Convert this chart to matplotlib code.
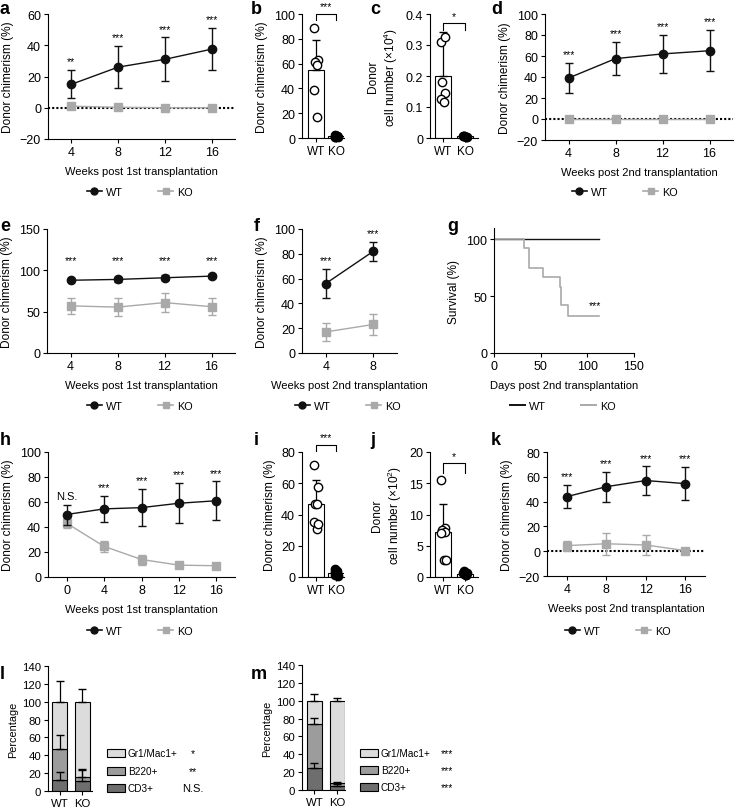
import numpy as np
import matplotlib
matplotlib.use("Agg")
import matplotlib.pyplot as plt
from matplotlib.lines import Line2D

plt.rcParams['font.family'] = ['Liberation Sans', 'DejaVu Sans']
plt.rcParams['font.size'] = 8
plt.rcParams['axes.labelsize'] = 8.6
plt.rcParams['xtick.labelsize'] = 9
plt.rcParams['ytick.labelsize'] = 9
plt.rcParams['axes.linewidth'] = 0.8
plt.rcParams['xtick.major.width'] = 0.8
plt.rcParams['ytick.major.width'] = 0.8
plt.rcParams['xtick.major.size'] = 3
plt.rcParams['ytick.major.size'] = 3
plt.rcParams['mathtext.fontset'] = 'custom'
plt.rcParams['mathtext.rm'] = 'Liberation Sans'

WT_C = '#111111'
KO_C = '#a9a9a9'
STAR_FS = 7.5

# ---- data ----
weeks = [4, 8, 12, 16]
weeks_h = [0, 4, 8, 12, 16]
weeks_f = [4, 8]

a_wt = [15, 26, 31, 37.5]
a_wt_err = [9, 13.5, 14, 13.5]
a_ko = [1, 0.3, 0, 0]
a_ko_err = [0.5, 0.3, 0.2, 0.2]
a_stars = ['**', '***', '***', '***']

b_wt_pts = [89, 63, 61, 59, 39, 17]
b_ko_pts = [2.5, 1.5, 1.0, 2.0, 0.5, 1.8, 1.2]
b_wt_mean, b_wt_err = 55, 24
b_ko_mean = 1.5

c_wt_pts = [0.31, 0.325, 0.18, 0.145, 0.125, 0.115]
c_ko_pts = [0.006, 0.004, 0.005, 0.003, 0.006]
c_wt_mean, c_wt_err = 0.2, 0.142
c_ko_mean = 0.005

d_wt = [39, 57.5, 62, 65]
d_wt_err = [14.5, 15.5, 18, 19.5]
d_ko = [0, 0, 0, 0]
d_ko_err = [0.3, 0.3, 0.3, 0.3]

e_wt = [88, 89, 91, 93]
e_wt_err = [1.5, 3, 3, 2.5]
e_ko = [57, 55.5, 61, 56]
e_ko_err = [10, 11, 12, 10]

f_wt = [56, 82]
f_wt_err = [12, 7.5]
f_ko = [17, 23]
f_ko_err = [7, 8.5]

g_wt_days = [0, 112]
g_wt_surv = [100, 100]
g_ko_days = [0, 32, 38, 52, 71, 72, 79, 112]
g_ko_surv = [100, 92, 75, 67, 58, 42, 33, 33]

h_wt = [50, 54.5, 55.5, 59, 61]
h_wt_err = [8, 10.5, 15, 16, 15.5]
h_ko = [43, 24.5, 14, 9.5, 9]
h_ko_err = [4, 4.5, 4, 1.5, 1.5]
h_stars = ['N.S.', '***', '***', '***', '***']

i_wt_pts = [71.5, 57.5, 47, 46.5, 35, 31, 34]
i_ko_pts = [5, 4, 3, 2.5, 1.5, 1, 0.5, 3.5]
i_wt_mean, i_wt_err = 47, 15
i_ko_mean = 2.5

j_wt_pts = [15.5, 7.9, 7.5, 7.2, 7.0, 2.8, 2.8]
j_ko_pts = [0.9, 0.7, 0.5, 0.3, 0.6, 0.4]
j_wt_mean, j_wt_err = 7.2, 4.5
j_ko_mean = 0.5

k_wt = [44, 52, 57, 54.5]
k_wt_err = [9.5, 12, 11.5, 13.5]
k_ko = [4.5, 6, 5, 0.5]
k_ko_err = [4, 9, 8, 1]

groups = ['WT', 'KO']
subsets = ['CD3+', 'B220+', 'Gr1/Mac1+']
subset_colors = ['#6e6e6e', '#9c9c9c', '#dcdcdc']
l_vals = {'WT': [12, 34.5, 53.5], 'KO': [11, 5, 84]}
l_errs = {'WT': [9, 16.5, 23.5], 'KO': [13, 9, 14]}
l_sig = ['N.S.', '**', '*']
m_vals = {'WT': [24.5, 49.5, 26], 'KO': [5, 3, 92]}
m_errs = {'WT': [5.5, 6.5, 7], 'KO': [2, 1, 3]}
m_sig = ['***', '***', '***']

W, H = 734, 812
fig = plt.figure(figsize=(W / 100, H / 100), dpi=100)


def add_ax(l, t, r, b):
    ax = fig.add_axes([l / W, 1 - b / H, (r - l) / W, (b - t) / H])
    ax.spines['top'].set_visible(False)
    ax.spines['right'].set_visible(False)
    ax.tick_params(direction='out', pad=2)
    return ax


def letter(x, y, s):
    fig.text(x / W, 1 - y / H, s, fontsize=13, fontweight='bold', va='top', ha='left')


def line_legend(cx, cy, markers=True):
    if markers:
        h = [Line2D([], [], color=WT_C, marker='o', ms=5, lw=1.2),
             Line2D([], [], color=KO_C, marker='s', ms=5, lw=1.2)]
    else:
        h = [Line2D([], [], color=WT_C, lw=1.4), Line2D([], [], color=KO_C, lw=1.4)]
    fig.legend(h, ['WT', 'KO'], loc='center', bbox_to_anchor=(cx / W, 1 - cy / H),
               ncol=2, frameon=False, handlelength=1.4, handletextpad=0.4,
               columnspacing=3.2, fontsize=7.8)


def line_panel(ax, x, wt, wt_err, ko, ko_err, stars, ylim, yticks, xlim,
               zero_line=False, star_y=None):
    if zero_line:
        ax.axhline(0, color='black', ls=(0, (1, 1)), lw=1.5, zorder=1)
    ax.errorbar(x, ko, yerr=ko_err, color=KO_C, marker='s', ms=5.5, lw=1,
                capsize=3, elinewidth=1, zorder=2)
    ax.errorbar(x, wt, yerr=wt_err, color=WT_C, marker='o', ms=6, lw=1,
                capsize=3, elinewidth=1, zorder=3)
    rng = ylim[1] - ylim[0]
    for xi, m, e, s in zip(x, wt, wt_err, stars):
        yy = star_y if star_y is not None else m + e + 0.07 * rng
        fs = 8 if s == 'N.S.' else STAR_FS
        ax.text(xi, yy, s, ha='center', va='center', fontsize=fs, clip_on=False)
    ax.set_ylim(*ylim)
    ax.set_yticks(yticks)
    ax.set_xlim(*xlim)
    ax.set_xticks(x)


def dot_bar_panel(ax, wt_mean, wt_err, ko_mean, wt_pts, ko_pts, ylim, yticks,
                  xlim, bw, bracket_y, drop, star):
    ax.bar([0, 1], [wt_mean, ko_mean], width=bw, color='white', edgecolor='black',
           lw=0.8, zorder=1)
    ax.errorbar(0, wt_mean, yerr=[[0], [wt_err]], color='black', capsize=3,
                elinewidth=0.9, zorder=2)
    off = np.array([-0.08, 0.1, -0.05, 0.07, -0.1, 0.04, 0.12, -0.02])
    ax.plot(0 + off[:len(wt_pts)], wt_pts, 'o', mfc='white', mec='black', ms=6,
            mew=1, zorder=3, clip_on=False)
    ax.plot(1 + off[:len(ko_pts)] * 0.7, ko_pts, 'o', color='black', ms=6,
            zorder=3, clip_on=False)
    ax.plot([0, 0, 1, 1], [bracket_y - drop, bracket_y, bracket_y, bracket_y - drop],
            color='black', lw=0.8, clip_on=False)
    rng = ylim[1] - ylim[0]
    ax.text(0.5, bracket_y + 0.06 * rng, star, ha='center', va='center',
            fontsize=STAR_FS, clip_on=False)
    ax.set_ylim(*ylim)
    ax.set_yticks(yticks)
    ax.set_xlim(*xlim)
    ax.set_xticks([0, 1])
    ax.set_xticklabels(groups, fontsize=8.5)


def stacked_panel(ax, vals, errs, xlim):
    for gi, g in enumerate(groups):
        bottom = 0
        for si in range(3):
            v = vals[g][si]
            ax.bar(gi, v, bottom=bottom, width=0.67, color=subset_colors[si],
                   edgecolor='black', lw=0.8, zorder=1)
            bottom += v
            ax.errorbar(gi, bottom, yerr=[[0], [errs[g][si]]], color='black',
                        capsize=3, elinewidth=0.9, zorder=2)
    ax.set_ylim(0, 140)
    ax.set_yticks(range(0, 141, 20))
    ax.tick_params(labelsize=8.2)
    ax.set_xlim(*xlim)
    ax.set_xticks([0, 1])
    ax.set_xticklabels(groups)
    ax.set_ylabel('Percentage', labelpad=3, fontsize=7.8)


def stacked_legend(x0, ys, star_x, sig):
    for si in [2, 1, 0]:
        y = ys[2 - si]
        fig.patches.append(plt.Rectangle((x0 / W, 1 - (y + 4) / H), 18 / W, 8 / H,
                                         transform=fig.transFigure, facecolor=subset_colors[si],
                                         edgecolor='black', lw=0.8))
        fig.text((x0 + 21) / W, 1 - y / H, subsets[si], va='center', ha='left', fontsize=7.2)
        fs = 8 if sig[si] == 'N.S.' else STAR_FS
        fig.text(star_x / W, 1 - y / H, sig[si], va='center', ha='center', fontsize=fs)


ylab = 'Donor chimerism (%)'

# a
ax = add_ax(48, 15, 235, 140)
line_panel(ax, weeks, a_wt, a_wt_err, a_ko, a_ko_err, a_stars, (-20, 60),
           range(-20, 61, 20), (2, 18), zero_line=True)
ax.set_ylabel(ylab)
ax.set_xlabel('Weeks post 1st transplantation', labelpad=6, fontsize=8)
line_legend(140, 193)
letter(0, 1, 'a')

# b
ax = add_ax(302, 15, 344, 139)
dot_bar_panel(ax, b_wt_mean, b_wt_err, b_ko_mean, b_wt_pts, b_ko_pts, (0, 100),
              range(0, 101, 20), (-0.7, 1.4), 0.8, 100, 5, '***')
ax.set_ylabel(ylab)
letter(251, 1, 'b')

# c
ax = add_ax(430, 15, 478, 139)
dot_bar_panel(ax, c_wt_mean, c_wt_err, c_ko_mean, c_wt_pts, c_ko_pts, (0, 0.4),
              [0, 0.1, 0.2, 0.3, 0.4], (-0.59, 1.59), 0.7, 0.37, 0.02, '*')
ax.set_yticklabels(['0', '0.1', '0.2', '0.3', '0.4'])
ax.set_ylabel('Donor\ncell number (×10$^{4}$)')
letter(370, 1, 'c')

# d
ax = add_ax(545, 15, 733, 141)
line_panel(ax, weeks, d_wt, d_wt_err, d_ko, d_ko_err, ['***'] * 4, (-20, 100),
           range(-20, 101, 20), (2, 18), zero_line=True)
ax.set_ylabel(ylab)
ax.set_xlabel('Weeks post 2nd transplantation', labelpad=6, fontsize=8)
line_legend(625, 193)
letter(491, 1, 'd')

# e
ax = add_ax(47, 230, 235, 354)
line_panel(ax, weeks, e_wt, e_wt_err, e_ko, e_ko_err, ['***'] * 4, (0, 150),
           [0, 50, 100, 150], (2, 18), star_y=112)
ax.set_ylabel(ylab)
ax.set_xlabel('Weeks post 1st transplantation', labelpad=6, fontsize=8)
line_legend(140, 407)
letter(0, 218, 'e')

# f
ax = add_ax(302, 230, 397, 354)
line_panel(ax, weeks_f, f_wt, f_wt_err, f_ko, f_ko_err, ['***'] * 2, (0, 100),
           range(0, 101, 20), (2, 10))
ax.set_ylabel(ylab)
ax.set_xlabel('Weeks post 2nd transplantation', labelpad=6, fontsize=8)
line_legend(348, 407)
letter(254, 218, 'f')

# g
ax = add_ax(494, 229, 634, 354)
ax.step(g_wt_days, g_wt_surv, where='post', color=WT_C, lw=1)
ax.step(g_ko_days, g_ko_surv, where='post', color=KO_C, lw=1.2)
ax.text(108, 42, '***', ha='center', va='center', fontsize=STAR_FS)
ax.set_xlim(0, 150)
ax.set_ylim(0, 110)
ax.set_xticks([0, 50, 100, 150])
ax.set_yticks([0, 50, 100])
ax.set_ylabel('Survival (%)')
ax.set_xlabel('Days post 2nd transplantation', labelpad=6, fontsize=8)
line_legend(563, 407, markers=False)
letter(447, 218, 'g')

# h
ax = add_ax(48, 453, 235, 578)
line_panel(ax, weeks_h, h_wt, h_wt_err, h_ko, h_ko_err, h_stars, (0, 100),
           range(0, 101, 20), (-2, 18))
ax.set_ylabel(ylab)
ax.set_xlabel('Weeks post 1st transplantation', labelpad=6, fontsize=8)
line_legend(140, 632)
letter(0, 432, 'h')

# i
ax = add_ax(302, 453, 344, 578)
dot_bar_panel(ax, i_wt_mean, i_wt_err, i_ko_mean, i_wt_pts, i_ko_pts, (0, 80),
              range(0, 81, 20), (-0.7, 1.4), 0.8, 84.5, 4, '***')
ax.set_ylabel(ylab)
letter(254, 432, 'i')

# j
ax = add_ax(430, 453, 478, 578)
dot_bar_panel(ax, j_wt_mean, j_wt_err, j_ko_mean, j_wt_pts, j_ko_pts, (0, 20),
              range(0, 21, 5), (-0.59, 1.59), 0.7, 18.2, 1.5, '*')
ax.set_ylabel('Donor\ncell number (×10$^{2}$)')
letter(370, 432, 'j')

# k
ax = add_ax(547, 453, 705, 577)
line_panel(ax, weeks, k_wt, k_wt_err, k_ko, k_ko_err, ['***'] * 4, (-20, 80),
           range(-20, 81, 20), (2, 18), zero_line=True)
ax.set_ylabel(ylab)
ax.set_xlabel('Weeks post 2nd transplantation', labelpad=6, fontsize=8)
line_legend(618, 632)
letter(491, 432, 'k')

# l
ax = add_ax(48, 667, 92, 792)
stacked_panel(ax, l_vals, l_errs, (-0.51, 1.44))
stacked_legend(107, [754, 772, 789], 193, l_sig)
letter(0, 666, 'l')

# m
ax = add_ax(302, 666, 345, 791)
stacked_panel(ax, m_vals, m_errs, (-0.54, 1.33))
stacked_legend(360, [754, 771, 788], 447, m_sig)
letter(251, 666, 'm')

fig.savefig('out.png', dpi=100)
